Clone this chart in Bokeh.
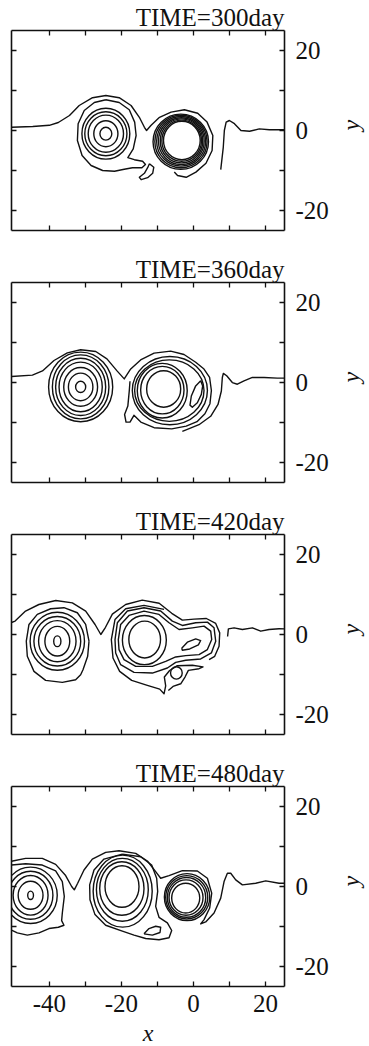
import math
from bokeh.plotting import figure
from bokeh.models import LinearAxis, FixedTicker, Range1d
from bokeh.layouts import column
from bokeh.embed import file_html
from bokeh.resources import INLINE

INK = "#111111"
FONT = "Liberation Serif"

X_RANGE = (-50.5, 25.3)
Y_RANGE = (-25.0, 25.0)
x_ticks = [-40, -30, -20, -10, 0, 10, 20]
x_tick_labels = {-40: "-40", -30: "", -20: "-20", -10: "", 0: "0", 10: "", 20: "20"}
y_ticks = [-20, -10, 0, 10, 20]
y_tick_labels = {-20: "-20", -10: "", 0: "0", 10: "", 20: "20"}

titles = ["TIME=300day", "TIME=360day", "TIME=420day", "TIME=480day"]

# ---------------- Panel 1 (300 day) ----------------
p1_ring_cx = [-24.3, -24.3, -24.3, -24.3, -24.3, -3.2, -3.25, -3.3, -3.35, -3.4, -3.45, -3.5]
p1_ring_cy = [-0.8, -0.8, -0.8, -0.8, -0.8, -2.5, -2.55, -2.6, -2.65, -2.7, -2.75, -2.8]
p1_ring_w = [3.3, 6.7, 9.8, 11.7, 13.3, 10.2, 11.0, 11.8, 12.7, 13.6, 14.5, 15.4]
p1_ring_h = [3.2, 6.5, 9.3, 11.0, 12.7, 9.6, 10.3, 11.0, 11.7, 12.4, 13.1, 13.8]
p1_main_x = [-50.5, -44.6, -40.0, -37.5, -34.4, -31.7, -28.0, -24.3, -20.6, -17.3, -15.0, -13.6, -13.0,
             -11.8, -9.4, -6.2, -2.5, 1.2, 3.8, 5.4, 5.2, 3.5, 0.7, -2.0, -4.4, -5.3]
p1_main_y = [0.8, 1.0, 1.3, 2.0, 3.75, 6.25, 8.2, 8.75, 8.2, 6.25, 3.3, 0.8, 0.0,
             1.25, 3.3, 4.6, 5.2, 4.3, 2.1, -1.25, -5.0, -8.2, -10.4, -11.7, -11.25, -10.4]
p1_tongue_x = [-24.3, -20.6, -17.8, -16.3, -15.9, -16.7, -18.2, -16.4, -14.1, -13.3, -14.3, -16.9,
               -19.2, -21.9, -25.2, -28.4, -30.9, -32.2, -32.0, -30.3, -27.5, -24.3]
p1_tongue_y = [7.7, 7.0, 5.2, 2.1, -1.25, -4.6, -6.8, -7.3, -7.7, -8.5, -9.3, -9.3,
               -9.7, -10.2, -10.0, -8.75, -6.25, -2.5, 1.7, 5.0, 7.0, 7.7]
p1_blob_x = [-12.2, -11.0, -11.3, -12.7, -14.5, -15.0, -13.6, -12.7, -12.2]
p1_blob_y = [-8.3, -9.2, -10.7, -11.8, -12.3, -11.7, -10.7, -9.3, -8.3]
p1_right_x = [7.6, 8.3, 8.6, 9.1, 10.0, 11.4, 13.2, 15.6, 18.3, 21.1, 23.9, 25.3]
p1_right_y = [-9.8, -4.2, 0.0, 2.1, 2.5, 1.7, 0.0, -0.2, 0.4, 0.2, 0.2, 0.2]

# ---------------- Panel 2 (360 day) ----------------
p2_ring_cx = [-31.3, -31.3, -31.3, -31.3, -31.3, -31.3, -31.3, -8.25, -8.62, -8.64, -6.68, -6.53]
p2_ring_cy = [-1.1, -1.1, -1.1, -1.1, -1.1, -1.1, -1.1, -1.61, -1.9, -2.04, -2.03, -2.03]
p2_ring_w = [2.8, 6.8, 9.4, 12.0, 13.9, 15.7, 17.8, 9.45, 12.04, 13.87, 19.26, 20.86]
p2_ring_h = [2.8, 6.9, 9.7, 12.4, 14.3, 16.0, 17.4, 9.12, 11.89, 13.67, 15.36, 17.04]
p2_main_x = [-50.5, -44.7, -41.9, -38.7, -35.0, -31.3, -27.1, -24.0, -21.2, -19.2, -17.4, -14.65, -10.9,
             -6.3, -2.6, 0.64, 2.95, 4.5, 5.0, 4.6, 3.2, 1.0, -2.0, -6.0, -10.9, -14.6, -16.5, -17.6,
             -18.7, -19.1, -18.2, -17.8, -17.6]
p2_main_y = [1.5, 1.85, 2.9, 5.5, 7.4, 8.2, 7.75, 5.9, 2.9, 0.9, 3.4, 5.65, 7.33,
             7.84, 7.0, 5.06, 3.37, 1.3, -2.0, -5.3, -7.8, -9.8, -10.9, -11.6, -11.3, -9.9, -8.2, -9.9,
             -9.9, -8.0, -5.9, -2.1, 0.3]
p2_right_x = [-3.07, -1.68, 1.56, 4.8, 6.84, 7.77, 8.04, 8.32, 9.25, 10.82, 12.21, 14.06, 16.38, 19.62, 23.32, 25.3]
p2_right_y = [-12.24, -11.74, -10.55, -8.44, -5.49, -2.12, 1.26, 2.27, 1.68, -0.01, -0.43, 0.42, 1.26, 1.26, 1.09, 1.09]
p2_eye_x = [2.03, 2.58, 2.21, 1.1, -0.29, -0.94, -0.57, 0.64, 2.03]
p2_eye_y = [0.42, -0.85, -2.96, -5.07, -6.17, -5.66, -3.38, -0.85, 0.42]

# ---------------- Panel 3 (420 day) ----------------
p3_ring_cx = [-37.78, -37.78, -37.78, -37.78, -37.78, -13.52, -13.61, -4.72]
p3_ring_cy = [-1.68, -1.68, -1.68, -1.68, -1.68, -1.26, -1.39, -9.6]
p3_ring_w = [2.0, 6.9, 10.4, 13.0, 15.1, 8.8, 12.2, 3.24]
p3_ring_h = [2.7, 7.4, 10.3, 12.4, 14.5, 9.2, 12.3, 3.1]
p3_outer_x = [-28.98, -29.35, -30.65, -31.3, -32.69, -36.39, -41.02, -44.26, -46.11, -46.39, -45.65,
              -43.34, -39.63, -35.93, -32.22, -29.91, -28.98]
p3_outer_y = [-1.68, -5.45, -8.8, -10.05, -11.31, -11.98, -11.48, -9.22, -5.45, -1.68, 2.51,
              5.02, 6.44, 6.7, 5.44, 2.51, -1.68]
p3_main_x = [-50.5, -49.5, -46.6, -42.9, -38.2, -33.6, -29.9, -27.3, -25.7, -24.4, -22.5, -18.8, -14.2,
             -9.5, -6.0, -3.06, 0.18, 3.61, 6.2, 7.31, 7.13, 5.92, 4.35]
p3_main_y = [3.0, 3.35, 5.85, 7.5, 8.5, 7.9, 5.85, 2.5, 0.0, 1.8, 5.1, 7.5, 8.6,
             7.8, 5.3, 3.6, 3.85, 4.0, 2.76, 0.41, -2.94, -5.45, -6.29]
p3_wrap1_x = [-20.84, -20.19, -17.87, -13.71, -9.54, -6.76, -3.98, -0.28, 2.96, 4.81, 5.09, 3.89, 1.57,
              -2.13, -4.91, -7.69, -11.39, -16.02, -19.26, -20.65, -20.84]
p3_wrap1_y = [-1.26, 2.51, 4.77, 5.86, 5.02, 2.93, 1.25, 1.67, 2.09, 0.83, -1.26, -3.77, -5.03,
              -5.28, -5.62, -6.7, -7.96, -7.96, -6.29, -3.77, -1.26]
p3_wrap2_x = [-21.76, -21.11, -18.33, -13.71, -9.08, -5.84, -3.06, 0.65, 3.89, 5.74, 6.2, 5.0, 2.03,
              -2.13, -4.91, -7.22, -11.39, -16.48, -20.19, -21.58, -21.76]
p3_wrap2_y = [-1.26, 2.93, 5.86, 6.7, 5.86, 3.35, 2.26, 2.93, 3.09, 1.67, -1.68, -4.61, -6.12,
              -6.45, -6.96, -8.38, -9.64, -9.47, -7.54, -4.61, -1.26]
p3_hook_x = [-8.15, -13.71, -18.8, -21.76, -22.78, -22.32, -20.47, -17.13, -12.78, -9.35, -8.15, -7.69,
             -8.06, -6.6, -4.45, -0.28, 2.68, 1.57, -1.39, -2.32, -3.52, -5.65, -6.95]
p3_hook_y = [6.28, 7.28, 6.44, 3.76, -1.26, -5.87, -9.22, -11.48, -12.73, -13.66, -14.83, -12.82,
             -10.64, -9.0, -7.8, -7.7, -8.1, -8.55, -8.97, -10.64, -12.32, -12.99, -13.99]
p3_eye_x = [-3.24, -1.67, 0.65, 2.03, 1.39, -1.02, -3.06, -3.24]
p3_eye_y = [-3.44, -1.93, -1.09, -1.51, -2.6, -3.61, -3.94, -3.44]
p3_right_x = [9.5, 9.72, 11.29, 13.61, 16.39, 18.7, 21.02, 23.79, 25.3]
p3_right_y = [-0.5, 1.42, 1.67, 1.25, 1.67, 0.83, 1.25, 1.42, 1.4]

# ---------------- Panel 4 (480 day) ----------------
p4_ring_cx = [-45.2, -45.2, -45.2, -45.2, -45.2, -19.82, -19.86, -19.72, -19.63,
              -2.13, -2.04, -1.9, -1.85, -1.76]
p4_ring_cy = [-2.2, -2.2, -2.2, -2.2, -2.2, 0.0, -0.5, -0.83, -1.16,
              -2.9, -2.77, -2.73, -2.69, -2.65]
p4_ring_w = [1.6, 6.9, 9.7, 12.4, 14.8, 9.44, 12.3, 14.4, 16.4, 7.78, 9.44, 10.65, 11.67, 12.59]
p4_ring_h = [2.1, 7.0, 9.9, 12.0, 14.1, 10.4, 13.4, 15.7, 18.0, 7.44, 8.85, 9.93, 10.84, 11.75]
p4_main_x = [-50.5, -46.58, -41.95, -38.24, -35.47, -33.8, -33.06, -32.13, -30.37, -28.06, -24.35, -20.65,
             -16.02, -12.78, -10.47, -9.08, -6.76, -3.06, 1.11, 3.89, 5.09, 4.53, 2.96, 2.03, 3.42, 5.74,
             7.59, 8.52, 9.44, 10.37, 11.76, 13.61, 17.31, 20.09, 23.79, 25.3]
p4_main_y = [6.3, 7.03, 7.03, 5.54, 2.73, 0.0, -0.83, 0.82, 4.13, 6.86, 8.52, 8.93,
             8.27, 6.37, 3.72, 2.06, 2.73, 3.97, 3.88, 2.06, -1.66, -5.38, -8.27, -9.35, -8.85, -6.62,
             -2.9, 1.24, 3.31, 3.31, 1.65, 0.41, 0.82, 1.4, 0.82, 0.82]
p4_left_x = [-50.5, -46.58, -41.95, -38.24, -36.39, -35.84, -36.39, -36.58, -35.93, -37.5, -40.09,
             -42.87, -46.11, -48.89, -50.5]
p4_left_y = [5.37, 5.7, 5.37, 3.88, 1.24, -2.48, -6.62, -8.52, -9.68, -10.18, -10.51,
             -11.58, -12.16, -11.58, -10.92]
p4_lobe_x = [-19.72, -14.63, -11.58, -10.19, -9.91, -10.47, -9.54, -7.22, -6.02, -6.76, -9.54, -13.24,
             -16.48, -19.72, -24.35, -27.32, -28.71, -28.8, -27.59, -24.82, -19.72]
p4_lobe_y = [8.1, 7.44, 5.37, 2.06, -1.24, -4.97, -7.7, -9.1, -11.0, -12.82, -13.32, -12.99,
             -12.16, -11.17, -9.68, -7.03, -3.31, 0.41, 4.13, 6.86, 8.1]
p4_eye_x = [-13.71, -12.32, -10.47, -9.08, -9.26, -11.39, -13.71]
p4_eye_y = [-11.83, -10.51, -9.93, -10.18, -11.5, -12.16, -11.83]

panels = [
    (titles[0], p1_ring_cx, p1_ring_cy, p1_ring_w, p1_ring_h,
     [p1_main_x, p1_tongue_x, p1_blob_x, p1_right_x], [p1_main_y, p1_tongue_y, p1_blob_y, p1_right_y]),
    (titles[1], p2_ring_cx, p2_ring_cy, p2_ring_w, p2_ring_h,
     [p2_main_x, p2_right_x, p2_eye_x], [p2_main_y, p2_right_y, p2_eye_y]),
    (titles[2], p3_ring_cx, p3_ring_cy, p3_ring_w, p3_ring_h,
     [p3_outer_x, p3_main_x, p3_wrap1_x, p3_wrap2_x, p3_hook_x, p3_eye_x, p3_right_x],
     [p3_outer_y, p3_main_y, p3_wrap1_y, p3_wrap2_y, p3_hook_y, p3_eye_y, p3_right_y]),
    (titles[3], p4_ring_cx, p4_ring_cy, p4_ring_w, p4_ring_h,
     [p4_main_x, p4_left_x, p4_lobe_x, p4_eye_x], [p4_main_y, p4_left_y, p4_lobe_y, p4_eye_y]),
]


def make_axis(ticks, labels, show, font_size="25px", standoff=9):
    ax = LinearAxis(ticker=FixedTicker(ticks=ticks, minor_ticks=[]))
    ax.major_tick_in = 5
    ax.major_tick_out = 0
    ax.minor_tick_in = 0
    ax.minor_tick_out = 0
    ax.axis_line_width = 1.6
    ax.axis_line_color = INK
    ax.major_tick_line_width = 1.3
    ax.major_tick_line_color = INK
    if show:
        ax.major_label_overrides = labels
        ax.major_label_text_font = FONT
        ax.major_label_text_font_size = font_size
        ax.major_label_text_color = INK
        ax.major_label_standoff = standoff
    else:
        ax.major_label_overrides = {t: "" for t in ticks}
        ax.major_label_text_font_size = "0px"
        ax.major_label_standoff = 0
    return ax


figs = []
for i, (title, rcx, rcy, rw, rh, lxs, lys) in enumerate(panels):
    last = i == len(panels) - 1
    p = figure(frame_width=273, frame_height=200,
               x_range=Range1d(*X_RANGE), y_range=Range1d(*Y_RANGE),
               x_axis_location=None, y_axis_location=None,
               toolbar_location=None, output_backend="svg",
               min_border_left=11, min_border_right=0,
               min_border_top=30, min_border_bottom=60 if last else 22)
    p.grid.visible = False
    p.outline_line_color = None
    p.background_fill_color = "white"
    p.border_fill_color = "white"

    p.title.text = title
    p.title.align = "right"
    p.title.text_font = FONT
    p.title.text_font_size = "25px"
    p.title.text_font_style = "normal"
    p.title.text_color = INK
    p.title.standoff = 0
    p.title.offset = 0

    p.add_layout(make_axis(y_ticks, y_tick_labels, False), "left")
    right = make_axis(y_ticks, y_tick_labels, True, standoff=11)
    right.axis_label = "y"
    right.axis_label_text_font = FONT
    right.axis_label_text_font_style = "italic"
    right.axis_label_text_font_size = "24px"
    right.axis_label_text_color = INK
    right.axis_label_standoff = 19
    right.axis_label_orientation = math.pi / 2
    p.add_layout(right, "right")
    p.add_layout(make_axis(x_ticks, x_tick_labels, False), "above")
    bottom = make_axis(x_ticks, x_tick_labels, last, standoff=8)
    if last:
        bottom.axis_label = "x"
        bottom.axis_label_text_font = FONT
        bottom.axis_label_text_font_style = "italic"
        bottom.axis_label_text_font_size = "24px"
        bottom.axis_label_text_color = INK
        bottom.axis_label_standoff = 5
    p.add_layout(bottom, "below")

    p.ellipse(x=rcx, y=rcy, width=rw, height=rh, fill_color=None,
              line_color=INK, line_width=1.4)
    p.multi_line(xs=lxs, ys=lys, line_color=INK, line_width=1.4, line_join="round")
    figs.append(p)

layout = column(*figs, spacing=0)
open("out.html", "w").write(file_html(layout, INLINE))
